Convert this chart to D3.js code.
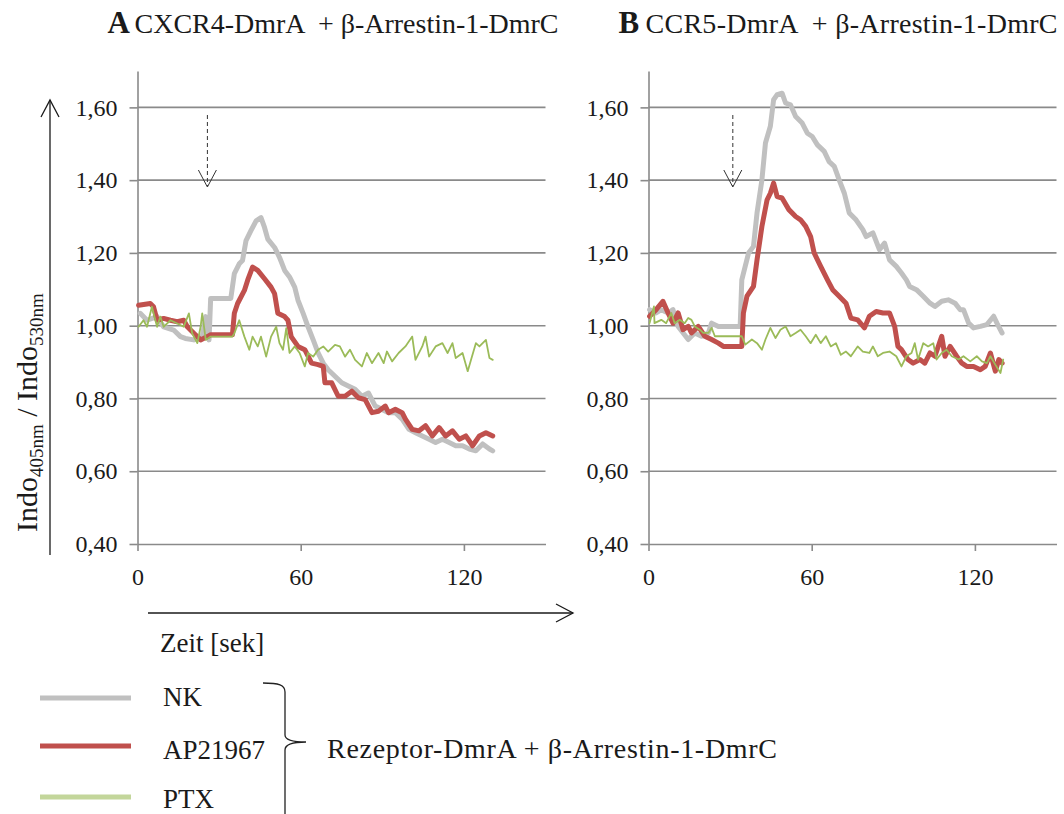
<!DOCTYPE html>
<html>
<head>
<meta charset="utf-8">
<script src="https://cdn.jsdelivr.net/npm/d3@7"></script>
<style>
  body { margin: 0; background: #fff; }
  svg text { font-family: "Liberation Serif", "Times New Roman", serif !important; fill: #1a1a1a; white-space: pre; }
</style>
</head>
<body>
<div id="my_dataviz"></div>
<script>
// series names / colours
var seriesNames = ["NK", "AP21967", "PTX"];
var seriesColors = ["#c0c0c0", "#c0504d", "#9bbb59"];
var legendColors = ["#c0c0c0", "#c0504d", "#c3d69b"];

// tick values
var yTicks = [0.4, 0.6, 0.8, 1.0, 1.2, 1.4, 1.6];
var xTicks = [0, 60, 120];

// time of the stimulus arrow [sec]
var stimA = 25.7, stimB = 31.0;

// Panel A: CXCR4  [sec, ratio]
var nkA = [[1,1.034],[3.5,1.015],[7.2,1.025],[9.6,0.997],[13.3,0.988],[15.8,0.970],[17.6,0.965],[20.7,0.961],[23.8,0.970],[25.1,1.025],[26.3,0.961],[26.9,1.075],[34.3,1.075],[35.6,1.143],[37.4,1.170],[38.6,1.179],[39.9,1.234],[41.7,1.261],[43.6,1.288],[45.4,1.297],[46.7,1.270],[47.9,1.238],[50.4,1.215],[52.2,1.188],[54.1,1.152],[55.9,1.134],[57.8,1.106],[59.0,1.070],[60.9,1.034],[62.7,0.997],[64.6,0.961],[66.4,0.925],[68.3,0.897],[70.1,0.879],[72.6,0.861],[75.1,0.843],[77.5,0.834],[80.0,0.825],[82.5,0.806],[84.9,0.815],[87.4,0.779],[89.9,0.770],[92.3,0.761],[94.8,0.761],[97.3,0.743],[99.8,0.715],[102.2,0.706],[104.7,0.697],[107.2,0.688],[109.6,0.679],[112.1,0.688],[114.6,0.679],[117.0,0.670],[119.5,0.670],[122.0,0.661],[124.4,0.656],[126.9,0.675],[129.4,0.661],[130.6,0.656]];
var apA = [[0.4,1.056],[4.7,1.061],[5.9,1.052],[7.2,1.015],[9.6,1.020],[12.1,1.015],[14.6,1.011],[17.0,1.015],[18.3,0.997],[20.7,0.979],[23.2,0.961],[25.7,0.970],[26.9,0.975],[34.9,0.975],[35.6,1.034],[36.8,1.061],[39.3,1.097],[40.5,1.125],[42.3,1.161],[44.2,1.152],[46.7,1.129],[49.1,1.106],[50.4,1.088],[51.6,1.034],[54.1,1.025],[55.3,1.015],[56.5,0.970],[59.0,0.943],[61.5,0.934],[64.0,0.897],[66.4,0.893],[68.3,0.888],[68.9,0.843],[71.4,0.843],[73.8,0.806],[76.3,0.806],[78.8,0.820],[81.2,0.802],[83.7,0.797],[86.2,0.761],[88.6,0.765],[91.1,0.779],[92.3,0.761],[94.8,0.770],[97.3,0.761],[98.5,0.743],[101.0,0.715],[103.5,0.711],[105.9,0.725],[108.4,0.697],[110.9,0.720],[113.3,0.697],[115.8,0.711],[118.3,0.688],[120.7,0.697],[123.2,0.670],[125.7,0.697],[128.1,0.706],[130.6,0.697]];
var ptxA = [[0.4,0.997],[2.2,1.015],[3.5,0.997],[5.3,1.052],[7.2,0.997],[8.4,1.025],[9.6,0.997],[12.1,1.015],[14.6,1.006],[17.0,0.997],[18.9,1.034],[20.1,0.979],[22.0,0.952],[23.2,0.997],[23.8,1.034],[25.1,0.961],[26.9,0.970],[34.9,0.970],[35.6,0.979],[37.4,1.015],[39.3,0.970],[41.1,0.934],[42.3,0.970],[44.2,0.943],[45.4,0.970],[47.3,0.915],[49.1,0.970],[51.0,0.997],[52.2,0.952],[53.5,0.934],[54.7,0.993],[55.9,0.925],[57.8,0.943],[59.6,0.925],[61.5,0.888],[62.7,0.925],[64.6,0.915],[66.4,0.934],[68.3,0.943],[70.1,0.929],[72.6,0.947],[74.4,0.943],[76.3,0.915],[78.1,0.934],[80.0,0.906],[82.5,0.888],[84.3,0.925],[86.2,0.897],[88.6,0.925],[90.5,0.897],[91.7,0.929],[93.6,0.902],[96.0,0.925],[98.5,0.943],[101.0,0.970],[102.2,0.906],[104.7,0.943],[105.9,0.970],[107.2,0.915],[109.6,0.943],[112.1,0.952],[114.0,0.925],[115.8,0.952],[117.0,0.911],[119.5,0.925],[121.4,0.875],[122.6,0.906],[124.4,0.952],[125.7,0.943],[126.9,0.952],[128.1,0.961],[129.4,0.911],[130.6,0.906]];

// Panel B: CCR5  [sec, ratio]
var nkB = [[0.4,1.044],[2.8,1.035],[4.7,1.044],[7.2,1.035],[9.0,1.044],[10.9,0.998],[14.6,0.962],[17.0,0.980],[19.5,0.971],[22.0,0.980],[23.2,1.007],[25.7,0.998],[33.7,0.998],[34.3,1.126],[36.8,1.200],[38.6,1.218],[39.9,1.310],[41.7,1.401],[43.0,1.502],[44.8,1.548],[46.0,1.621],[47.3,1.635],[49.1,1.639],[50.4,1.612],[52.2,1.607],[54.1,1.575],[56.5,1.557],[58.4,1.529],[60.2,1.520],[62.1,1.497],[64.6,1.479],[66.4,1.451],[68.3,1.438],[70.1,1.401],[72.0,1.364],[73.8,1.310],[76.3,1.291],[78.8,1.264],[80.0,1.245],[82.5,1.255],[84.9,1.209],[86.8,1.227],[88.6,1.181],[91.1,1.163],[93.0,1.145],[94.8,1.126],[96.0,1.108],[98.5,1.099],[101.0,1.081],[103.5,1.062],[105.3,1.053],[107.8,1.067],[110.2,1.071],[112.7,1.062],[114.6,1.044],[115.8,1.044],[117.7,1.007],[119.5,0.994],[122.0,0.998],[124.4,1.003],[126.9,1.026],[128.1,1.007],[130.0,0.980]];
var apB = [[0.4,1.026],[2.8,1.044],[5.3,1.067],[7.2,1.035],[9.0,1.007],[10.9,1.035],[12.7,0.989],[14.6,0.998],[15.8,0.980],[18.3,0.998],[20.7,0.971],[23.2,0.962],[25.7,0.952],[27.5,0.943],[34.3,0.943],[34.9,1.035],[36.2,1.081],[38.6,1.108],[39.9,1.181],[41.7,1.273],[43.6,1.346],[44.8,1.364],[46.0,1.392],[47.3,1.355],[49.1,1.351],[51.6,1.319],[54.1,1.300],[55.9,1.291],[57.8,1.273],[59.6,1.245],[60.9,1.200],[63.3,1.163],[65.8,1.126],[67.7,1.099],[70.1,1.081],[72.6,1.062],[74.4,1.021],[76.9,1.016],[79.4,0.994],[81.2,1.026],[83.7,1.039],[86.2,1.035],[88.6,1.035],[90.5,0.998],[91.7,0.943],[93.0,0.934],[95.4,0.907],[97.3,0.897],[99.8,0.907],[101.6,0.897],[103.5,0.925],[105.3,0.916],[107.8,0.971],[109.0,0.916],[110.9,0.943],[113.3,0.916],[115.2,0.897],[117.0,0.888],[119.5,0.888],[122.0,0.879],[123.8,0.888],[125.7,0.925],[127.5,0.875],[128.8,0.907],[130.0,0.897]];
var ptxB = [[0.4,1.007],[2.0,1.053],[2.2,1.007],[4.7,1.016],[6.5,1.007],[8.4,1.035],[9.6,1.007],[11.5,1.016],[13.3,1.007],[14.6,1.021],[15.8,1.016],[17.0,0.998],[18.9,0.989],[20.1,0.980],[22.0,0.980],[23.2,0.994],[24.4,0.971],[34.3,0.971],[35.6,0.948],[38.0,0.962],[39.9,0.952],[41.7,0.934],[43.0,0.962],[44.8,0.994],[46.7,0.966],[48.5,0.989],[50.4,0.998],[52.2,0.971],[54.1,0.980],[55.9,0.989],[57.8,0.971],[59.6,0.952],[61.5,0.975],[63.3,0.952],[65.2,0.971],[67.0,0.943],[68.9,0.952],[70.7,0.920],[72.6,0.929],[74.4,0.916],[76.9,0.943],[78.8,0.929],[81.2,0.925],[82.5,0.943],[84.3,0.916],[86.2,0.925],[88.6,0.929],[91.1,0.916],[93.0,0.888],[94.8,0.916],[96.7,0.925],[97.9,0.952],[99.1,0.907],[101.0,0.952],[102.8,0.943],[104.7,0.952],[105.9,0.907],[107.8,0.925],[109.6,0.934],[111.5,0.916],[114.0,0.907],[115.8,0.916],[118.3,0.902],[120.7,0.916],[122.6,0.902],[124.4,0.897],[125.7,0.916],[127.5,0.893],[129.4,0.870],[130.4,0.907]];

var width = 1064, height = 814;
var plotW = 408;
var yTop = 71, yBottom = 544;
var gridColor = "#8a8a8a";
var serif = "'Liberation Serif', 'Times New Roman', serif";

var svg = d3.select("#my_dataviz")
  .append("svg")
    .attr("width", width)
    .attr("height", height)
    .style("font-family", serif);

var yScale = d3.scaleLinear()
    .domain([0.4, 1.7])
    .range([yBottom, yTop]);

var fmt = function(d) { return d3.format(".2f")(d).replace(".", ","); };

function drawPanel(x0, letter, title, titleLen, series, stim) {
  var xScale = d3.scaleLinear()
      .domain([0, 150])
      .range([x0, x0 + plotW]);

  var g = svg.append("g");

  // horizontal gridlines
  g.selectAll(".grid")
    .data(yTicks.filter(function(d) { return d > 0.5; }))
    .enter().append("line")
      .attr("x1", x0)
      .attr("x2", x0 + plotW)
      .attr("y1", function(d) { return yScale(d); })
      .attr("y2", function(d) { return yScale(d); })
      .attr("stroke", gridColor)
      .attr("stroke-width", 1.6);

  // y axis
  var yAx = g.append("g")
    .attr("transform", "translate(" + x0 + ",0)")
    .call(d3.axisLeft(yScale).tickValues(yTicks).tickSizeInner(8).tickSizeOuter(0)
          .tickPadding(12).tickFormat(fmt));

  // x axis
  var xAx = g.append("g")
    .attr("transform", "translate(0," + yBottom + ")")
    .call(d3.axisBottom(xScale).tickValues(xTicks).tickSizeInner(7).tickSizeOuter(0)
          .tickPadding(17));

  [yAx, xAx].forEach(function(ax) {
    ax.attr("font-family", null);
    ax.select(".domain").attr("stroke", gridColor).attr("stroke-width", 1.6);
    ax.selectAll(".tick line").attr("stroke", gridColor).attr("stroke-width", 1.6);
    ax.selectAll(".tick text")
      .style("font-family", serif)
      .attr("font-size", 24)
      .attr("fill", "#1a1a1a");
  });

  // lines
  var line = d3.line()
      .x(function(d) { return xScale(d[0]); })
      .y(function(d) { return yScale(d[1]); });

  var widths = [5, 5, 1.8];
  series.forEach(function(s, i) {
    g.append("path")
      .attr("fill", "none")
      .attr("stroke", seriesColors[i])
      .attr("stroke-width", widths[i])
      .attr("stroke-linejoin", "round")
      .attr("stroke-linecap", "round")
      .attr("d", line(s));
  });

  // stimulus arrow
  var sx = xScale(stim);
  g.append("line")
    .attr("x1", sx).attr("x2", sx)
    .attr("y1", 115).attr("y2", 186)
    .attr("stroke", "#333").attr("stroke-width", 1)
    .attr("stroke-dasharray", "4,3");
  g.append("path")
    .attr("d", "M" + (sx - 9) + ",170L" + sx + ",187L" + (sx + 9) + ",170")
    .attr("fill", "none").attr("stroke", "#333").attr("stroke-width", 1);

  // title
  g.append("text")
    .attr("x", x0 - 30)
    .attr("y", 33)
    .attr("font-size", 31)
    .attr("font-weight", "bold")
    .text(letter);
  g.append("text")
    .attr("x", x0 - 3)
    .attr("y", 33)
    .attr("font-size", 28)
    .attr("textLength", titleLen)
    .attr("lengthAdjust", "spacing")
    .text(title);
}

drawPanel(137.5, "A", "CXCR4-DmrA  + β-Arrestin-1-DmrC", 424, [nkA, apA, ptxA], stimA);
drawPanel(648.5, "B", "CCR5-DmrA  + β-Arrestin-1-DmrC", 412, [nkB, apB, ptxB], stimB);

// y axis label with arrow
svg.append("line")
  .attr("x1", 50).attr("x2", 50).attr("y1", 100).attr("y2", 555)
  .attr("stroke", "#1a1a1a").attr("stroke-width", 1.3);
svg.append("path")
  .attr("d", "M41,117L50,100L59,117")
  .attr("fill", "none").attr("stroke", "#1a1a1a").attr("stroke-width", 1.3);

var yl = svg.append("text")
  .attr("transform", "translate(37,532) rotate(-90)")
  .attr("font-size", 30);
yl.append("tspan").text("Indo");
yl.append("tspan").attr("font-size", 19).attr("dy", 6).text("405nm");
yl.append("tspan").attr("dy", -6).text(" / Indo");
yl.append("tspan").attr("font-size", 19).attr("dy", 6).text("530nm");

// x axis label with arrow
svg.append("line")
  .attr("x1", 148).attr("x2", 573).attr("y1", 613).attr("y2", 613)
  .attr("stroke", "#1a1a1a").attr("stroke-width", 1.3);
svg.append("path")
  .attr("d", "M556,604L573,613L556,622")
  .attr("fill", "none").attr("stroke", "#1a1a1a").attr("stroke-width", 1.3);
svg.append("text")
  .attr("x", 160).attr("y", 652)
  .attr("font-size", 27)
  .text("Zeit [sek]");

// legend
var legendY = [698, 746, 797];
var legendTextY = [706, 759, 808];
var lg = svg.append("g");
seriesNames.forEach(function(name, i) {
  lg.append("line")
    .attr("x1", 40).attr("x2", 131)
    .attr("y1", legendY[i]).attr("y2", legendY[i])
    .attr("stroke", legendColors[i]).attr("stroke-width", 5);
  lg.append("text")
    .attr("x", 163).attr("y", legendTextY[i])
    .attr("font-size", 27)
    .text(name);
});

// brace
lg.append("path")
  .attr("d", "M263,683C279,683 285,685 285,692L285,735C285,740 292,742 306,742C292,742 285,745 285,750L285,814")
  .attr("fill", "none").attr("stroke", "#222").attr("stroke-width", 1.3);
lg.append("text")
  .attr("x", 327).attr("y", 758)
  .attr("font-size", 28)
  .attr("textLength", 450)
  .attr("lengthAdjust", "spacing")
  .text("Rezeptor-DmrA + β-Arrestin-1-DmrC");
</script>
</body>
</html>
